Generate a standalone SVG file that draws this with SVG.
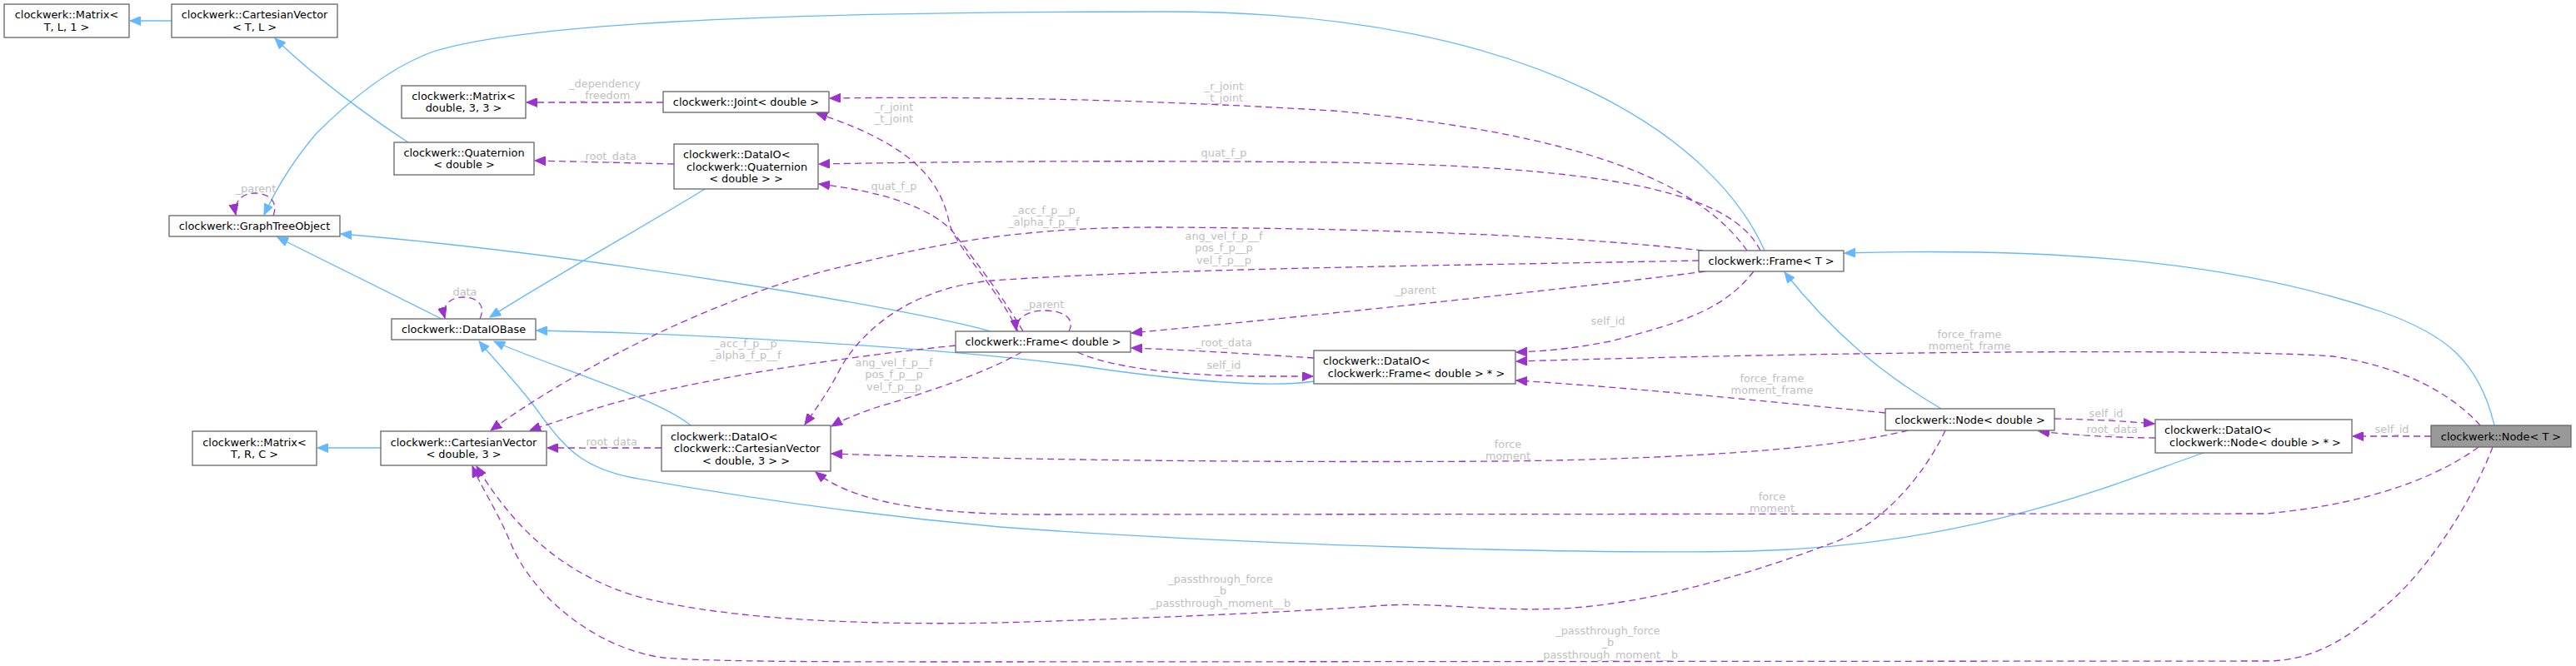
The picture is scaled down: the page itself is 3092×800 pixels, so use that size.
<svg xmlns="http://www.w3.org/2000/svg" width="3092" height="800" viewBox="0 0 3092 800">
<style>
.nd rect{fill:#ffffff;stroke:#666666;stroke-width:1.3}
.nd.hl rect{fill:#999999}
.t{font-family:"DejaVu Sans","Liberation Sans",sans-serif;font-size:12.9px;fill:#000000}
.c{text-anchor:middle}
.lbl{font-family:"DejaVu Sans","Liberation Sans",sans-serif;font-size:12.9px;fill:#c0c0c0;text-anchor:middle}
.inh{fill:none;stroke:#63b8ff;stroke-width:1.3;marker-end:url(#ab)}
.use{fill:none;stroke:#9a32cd;stroke-width:1.3;stroke-dasharray:8,5;marker-end:url(#ap)}
</style>
<defs>
<marker id="ab" markerWidth="14" markerHeight="11" refX="13" refY="5.5" orient="auto" markerUnits="userSpaceOnUse"><path d="M0,0 L13,5.5 L0,11 Z" fill="#63b8ff" stroke="#63b8ff" stroke-width="1"/></marker>
<marker id="ap" markerWidth="14" markerHeight="11" refX="13" refY="5.5" orient="auto" markerUnits="userSpaceOnUse"><path d="M0,0 L13,5.5 L0,11 Z" fill="#9a32cd" stroke="#9a32cd" stroke-width="1"/></marker>
</defs>
<rect width="3092" height="800" fill="#ffffff"/>
<g id="connectors">
<path class="inh" d="M206,25 L156,25"/>
<path class="inh" d="M530,383 L333,285"/>
<path class="inh" d="M1189,398 C1100,372 700,305 409,281"/>
<path class="inh" d="M846,227 C790,262 660,335 588,381"/>
<path class="inh" d="M2118,301 C2060,170 1850,14 1400,14 C900,14 620,30 520,62 C470,80 420,120 380,160 C350,195 330,230 317,258"/>
<path class="inh" d="M490,171 C450,145 380,95 330,46"/>
<path class="inh" d="M829,511 C790,478 660,440 593,410"/>
<path class="inh" d="M1577,458 C1530,466 1420,458 1300,440 C1100,414 800,400 644,397"/>
<path class="inh" d="M2645,544 C2560,572 2380,655 2100,662 C1900,666 1500,655 1200,633 C1000,615 850,590 760,574 C700,562 680,540 650,500 C630,470 600,440 575,410"/>
<path class="inh" d="M2330,491 C2260,450 2200,400 2142,327"/>
<path class="inh" d="M2994,511 C2975,430 2930,400 2860,375 C2700,320 2500,296 2214,304"/>
<path class="inh" d="M457,538 L381,538"/>

<path class="use" d="M796,123 L632,123"/>
<text class="lbl" x="726" y="104.5">_dependency</text><text class="lbl" x="726" y="118.5">_freedom</text>
<path class="use" d="M809,197 L642,193"/>
<text class="lbl" x="730" y="191.5">_root_data</text>
<path class="use" d="M576,383 C584,366 572,357 556,357 C540,357 530,367 534,382"/>
<text class="lbl" x="558" y="355">data</text>
<path class="use" d="M328,259 C335,240 320,232 306,232 C290,232 280,243 283,258"/>
<text class="lbl" x="307" y="231">_parent</text>
<path class="use" d="M1283,398 C1292,380 1272,373 1253,373 C1233,373 1218,383 1220,397"/>
<text class="lbl" x="1253" y="370">_parent</text>
<path class="use" d="M2097,301 C2040,220 1900,160 1600,133 C1350,118 1150,116 996,118"/>
<text class="lbl" x="1469" y="107.5">_r_joint</text><text class="lbl" x="1469" y="122">_t_joint</text>
<path class="use" d="M1222,398 C1200,350 1150,300 1140,270 C1130,220 1100,175 980,136"/>
<text class="lbl" x="1073" y="132.5">_r_joint</text><text class="lbl" x="1073" y="147">_t_joint</text>
<path class="use" d="M2113,301 C2080,235 1950,200 1600,195 C1300,192 1100,195 983,197"/>
<text class="lbl" x="1469" y="187.5">quat_f_p</text>
<path class="use" d="M1228,398 C1200,350 1160,300 1145,280 C1120,250 1060,230 983,221"/>
<text class="lbl" x="1073" y="227.5">quat_f_p</text>
<path class="use" d="M2044,301 C1900,285 1700,275 1400,273 C1200,272 1100,300 1000,323 C850,360 680,450 589,517"/>
<text class="lbl" x="1253" y="256.5">_acc_f_p__p</text><text class="lbl" x="1253" y="271">_alpha_f_p__f</text>
<path class="use" d="M1147,415 C1000,430 800,460 693,498 C670,506 650,512 636,517"/>
<text class="lbl" x="895" y="416.5">_acc_f_p__p</text><text class="lbl" x="895" y="431">_alpha_f_p__f</text>
<path class="use" d="M2039,313 C1800,318 1400,322 1191,337 C1100,345 1040,390 1010,440 C995,470 980,490 966,510"/>
<text class="lbl" x="1469" y="287.5">ang_vel_f_p__f</text><text class="lbl" x="1469" y="302">pos_f_p__p</text><text class="lbl" x="1469" y="316.5">vel_f_p__p</text>
<path class="use" d="M1226,423 C1180,450 1100,475 1050,490 C1030,497 1010,505 998,512"/>
<text class="lbl" x="1073" y="439.5">ang_vel_f_p__f</text><text class="lbl" x="1073" y="454">pos_f_p__p</text><text class="lbl" x="1073" y="468.5">vel_f_p__p</text>
<path class="use" d="M2047,326 C1900,345 1600,377 1358,400"/>
<text class="lbl" x="1699" y="352.5">_parent</text>
<path class="use" d="M2105,326 C2070,370 2028,385 1933,410 C1880,420 1850,422 1820,423"/>
<text class="lbl" x="1930" y="389.5">self_id</text>
<path class="use" d="M1293,423 C1330,440 1400,450 1500,452 L1576,452"/>
<text class="lbl" x="1469" y="442.5">self_id</text>
<path class="use" d="M1577,430 C1500,425 1420,420 1358,418"/>
<text class="lbl" x="1469" y="415.5">_root_data</text>
<path class="use" d="M2977,511 C2940,470 2880,440 2800,428 C2700,420 2300,420 1820,434"/>
<text class="lbl" x="2364" y="405.5">force_frame</text><text class="lbl" x="2364" y="420">moment_frame</text>
<path class="use" d="M2263,496 C2100,480 1950,465 1820,457"/>
<text class="lbl" x="2127" y="458.5">force_frame</text><text class="lbl" x="2127" y="473">moment_frame</text>
<path class="use" d="M2466,503 C2520,504 2550,506 2586,509"/>
<text class="lbl" x="2528" y="500.5">self_id</text>
<path class="use" d="M2587,526 C2540,526 2480,522 2447,518"/>
<text class="lbl" x="2532" y="519.5">_root_data</text>
<path class="use" d="M2918,524 L2824,524"/>
<text class="lbl" x="2871" y="519.5">self_id</text>
<path class="use" d="M2975,537 C2930,570 2850,605 2720,617 L1250,618 C1100,618 1020,600 979,567"/>
<text class="lbl" x="2127" y="600.5">force</text><text class="lbl" x="2127" y="615">moment</text>
<path class="use" d="M2290,517 C2200,540 2000,552 1800,554 C1500,556 1200,552 998,545"/>
<text class="lbl" x="1810" y="538">force</text><text class="lbl" x="1810" y="552">moment</text>
<path class="use" d="M2335,517 C2310,570 2260,630 2200,652 C2100,690 1980,725 1876,731 C1780,735 1720,722 1650,728 C1550,735 1400,742 1200,748 C1000,752 850,740 760,715 C680,690 620,640 572,560"/>
<text class="lbl" x="1465" y="699.5">_passthrough_force</text><text class="lbl" x="1465" y="714">_b</text><text class="lbl" x="1465" y="728.5">_passthrough_moment__b</text>
<path class="use" d="M2992,537 C2960,620 2900,700 2860,730 C2820,765 2780,792 2726,794 L1200,795 C1000,795 850,795 796,790 C720,780 640,720 612,650 C595,610 580,590 567,560"/>
<text class="lbl" x="1930" y="761.5">_passthrough_force</text><text class="lbl" x="1930" y="776">_b</text><text class="lbl" x="1930" y="790.5">_passthrough_moment__b</text>
<path class="use" d="M794,538 L657,538"/>
<text class="lbl" x="731" y="535">_root_data</text>
</g>

<g id="n_matrix_tl1" class="nd"><rect x="5" y="5" width="150" height="40"/><text class="t c" x="80" y="22.25">clockwerk::Matrix&lt;</text><text class="t c" x="80" y="36.75">T, L, 1 &gt;</text></g>
<g id="n_cv_tl" class="nd"><rect x="206" y="5" width="199" height="40"/><text class="t c" x="305.5" y="22.25">clockwerk::CartesianVector</text><text class="t c" x="305.5" y="36.75">&lt; T, L &gt;</text></g>
<g id="n_matrix_d33" class="nd"><rect x="482" y="103" width="149" height="39"/><text class="t c" x="556.5" y="119.75">clockwerk::Matrix&lt;</text><text class="t c" x="556.5" y="134.25">double, 3, 3 &gt;</text></g>
<g id="n_joint" class="nd"><rect x="796" y="110" width="199" height="25"/><text class="t c" x="895.5" y="127">clockwerk::Joint&lt; double &gt;</text></g>
<g id="n_quat" class="nd"><rect x="473" y="171" width="168" height="39"/><text class="t c" x="557" y="187.75">clockwerk::Quaternion</text><text class="t c" x="557" y="202.25">&lt; double &gt;</text></g>
<g id="n_dataio_q" class="nd"><rect x="809" y="173" width="173" height="54"/><text class="t" x="820" y="190">clockwerk::DataIO&lt;</text><text class="t" x="824" y="204.5">clockwerk::Quaternion</text><text class="t c" x="895.5" y="219">&lt; double &gt; &gt;</text></g>
<g id="n_gto" class="nd"><rect x="203" y="259" width="205" height="25"/><text class="t c" x="305.5" y="276">clockwerk::GraphTreeObject</text></g>
<g id="n_dataiobase" class="nd"><rect x="470" y="383" width="173" height="25"/><text class="t c" x="556.5" y="400">clockwerk::DataIOBase</text></g>
<g id="n_frame_d" class="nd"><rect x="1147" y="398" width="210" height="25"/><text class="t c" x="1252" y="415">clockwerk::Frame&lt; double &gt;</text></g>
<g id="n_dataio_f" class="nd"><rect x="1577" y="421" width="242" height="40"/><text class="t" x="1588" y="438.25">clockwerk::DataIO&lt;</text><text class="t c" x="1700" y="452.75">clockwerk::Frame&lt; double &gt; * &gt;</text></g>
<g id="n_frame_t" class="nd"><rect x="2039" y="301" width="174" height="25"/><text class="t c" x="2126" y="318">clockwerk::Frame&lt; T &gt;</text></g>
<g id="n_node_d" class="nd"><rect x="2263" y="491" width="203" height="26"/><text class="t c" x="2364.5" y="508.5">clockwerk::Node&lt; double &gt;</text></g>
<g id="n_dataio_n" class="nd"><rect x="2587" y="504" width="236" height="40"/><text class="t" x="2598" y="521.25">clockwerk::DataIO&lt;</text><text class="t c" x="2707" y="535.75">clockwerk::Node&lt; double &gt; * &gt;</text></g>
<g id="n_node_t" class="nd hl"><rect x="2918" y="511" width="168" height="26"/><text class="t c" x="3002" y="528.5">clockwerk::Node&lt; T &gt;</text></g>
<g id="n_matrix_trc" class="nd"><rect x="231" y="518" width="149" height="41"/><text class="t c" x="305.5" y="535.75">clockwerk::Matrix&lt;</text><text class="t c" x="305.5" y="550.25">T, R, C &gt;</text></g>
<g id="n_cv_d3" class="nd"><rect x="457" y="518" width="199" height="41"/><text class="t c" x="556.5" y="535.75">clockwerk::CartesianVector</text><text class="t c" x="556.5" y="550.25">&lt; double, 3 &gt;</text></g>
<g id="n_dataio_cv" class="nd"><rect x="794" y="511" width="203" height="55"/><text class="t" x="805" y="528.5">clockwerk::DataIO&lt;</text><text class="t" x="809" y="543">clockwerk::CartesianVector</text><text class="t c" x="895.5" y="557.5">&lt; double, 3 &gt; &gt;</text></g>
</svg>
